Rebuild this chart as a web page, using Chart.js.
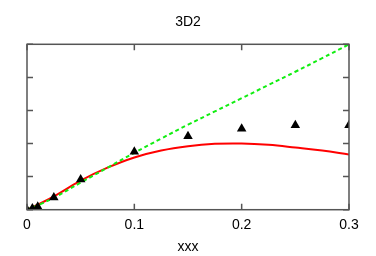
<!DOCTYPE html>
<html>
<head>
<meta charset="utf-8">
<script src="https://cdn.jsdelivr.net/npm/chart.js@4/dist/chart.umd.min.js"></script>
<style>
  html, body { margin: 0; padding: 0; background: #fff; }
  #wrap { width: 376px; height: 256px; }
</style>
</head>
<body>
<div id="wrap"><canvas id="chart"></canvas></div>
<script>
// values
const curveX = [0, 0.0125, 0.025, 0.05, 0.075, 0.1, 0.125, 0.15, 0.175, 0.2, 0.225, 0.25, 0.275, 0.3];
const redY   = [0, 0.19, 0.40, 0.88, 1.27, 1.58, 1.79, 1.92, 1.99, 2.00, 1.96, 1.88, 1.79, 1.67];
const greenY = [0, 0.17, 0.36, 0.82, 1.27, 1.72, 2.15, 2.57, 2.97, 3.37, 3.77, 4.17, 4.58, 5.00];
const dataX  = [0, 0.005, 0.01, 0.025, 0.05, 0.1, 0.15, 0.2, 0.25, 0.3];
const dataY  = [0, 0.04, 0.09, 0.37, 0.91, 1.75, 2.22, 2.45, 2.55, 2.55];
const xTicks = [0, 0.1, 0.2, 0.3];
const yTicks = [0, 1, 2, 3, 4, 5];

const pts = (xs, ys) => xs.map((x, i) => ({ x, y: ys[i] }));
const FRAME = "#555";

// gnuplot-style frame with inward ticks on all four sides
const frame = {
  id: "frame",
  afterDatasetsDraw(c) {
    const { ctx, chartArea: a, scales: { x, y } } = c;
    const len = 6;
    ctx.save();
    ctx.strokeStyle = FRAME;
    ctx.lineWidth = 1.5;
    ctx.strokeRect(a.left, a.top, a.right - a.left, a.bottom - a.top);
    ctx.beginPath();
    xTicks.forEach((v) => {
      const px = x.getPixelForValue(v);
      ctx.moveTo(px, a.bottom); ctx.lineTo(px, a.bottom - len);
      ctx.moveTo(px, a.top); ctx.lineTo(px, a.top + len);
    });
    yTicks.forEach((v) => {
      const py = y.getPixelForValue(v);
      ctx.moveTo(a.left, py); ctx.lineTo(a.left + len, py);
      ctx.moveTo(a.right, py); ctx.lineTo(a.right - len, py);
    });
    ctx.stroke();
    ctx.restore();
  },
};

Chart.defaults.font.family = "'Liberation Sans', Arial, sans-serif";
Chart.defaults.color = "#000";

new Chart(document.getElementById("chart"), {
  type: "scatter",
  data: {
    datasets: [
      {
        label: "data", data: pts(dataX, dataY), showLine: false,
        pointStyle: "triangle", pointRadius: 5.5, backgroundColor: "#000", borderColor: "#000", borderWidth: 0,
      },
      {
        label: "green", data: pts(curveX, greenY), showLine: true, pointRadius: 0,
        borderColor: "#11ee11", borderWidth: 2, borderDash: [4, 3], tension: 0.4,
      },
      {
        label: "red", data: pts(curveX, redY), showLine: true, pointRadius: 0,
        borderColor: "#ff0000", borderWidth: 2, tension: 0.4,
      },
    ],
  },
  options: {
    responsive: true, maintainAspectRatio: false, animation: false,
    layout: { padding: { left: 27, right: 27, top: 0, bottom: 0 } },
    plugins: {
      legend: { display: false }, tooltip: { enabled: false },
      title: { display: true, text: "3D2", font: { size: 14, weight: "normal" }, padding: { top: 14, bottom: 13.5 } },
    },
    scales: {
      x: {
        type: "linear", min: 0, max: 0.3,
        afterBuildTicks: (s) => { s.ticks = xTicks.map((v) => ({ value: v })); },
        ticks: { font: { size: 14 }, padding: 7.5, callback: (v) => String(v) },
        grid: { display: false, drawTicks: false, tickLength: 0 }, border: { display: false },
        title: { display: true, text: "xxx", font: { size: 14 }, padding: { top: -2.3, bottom: 0 } },
      },
      y: {
        type: "linear", min: 0, max: 5,
        afterBuildTicks: (s) => { s.ticks = yTicks.map((v) => ({ value: v })); },
        ticks: { display: false },
        grid: { display: false, drawTicks: false, tickLength: 0 }, border: { display: false },
      },
    },
  },
  plugins: [frame],
});
</script>
</body>
</html>
